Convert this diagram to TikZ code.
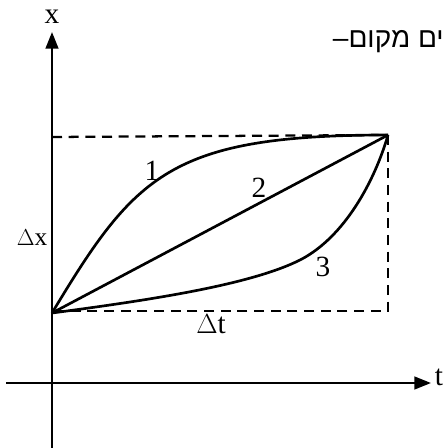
\documentclass[tikz,border=0pt]{standalone}
\usepackage{fontspec}
\setmainfont{Liberation Serif}
\newfontfamily\hebfont[Script=Hebrew]{Liberation Sans}
\TeXXeTstate=1
\usetikzlibrary{arrows.meta}
\begin{document}
\begin{tikzpicture}[x=0.75pt,y=-0.75pt,
  axis/.style={line width=1.8pt,-{Triangle[length=12.5pt,width=9.5pt]}},
  guide/.style={line width=1.7pt,dash pattern=on 7.5pt off 5pt},
  curve/.style={line width=2pt,line join=round},
  lbl/.style={inner sep=0pt,font=\fontsize{22}{24}\selectfont},
  dlbl/.style={inner sep=0pt,font=\fontsize{19}{21}\selectfont}]
\useasboundingbox (0,0) rectangle (447,448);
\coordinate (yb) at (52,448);
\coordinate (yt) at (52,32);
\coordinate (xl) at (6,383);
\coordinate (xr) at (431,383);
\coordinate (A) at (52,313);
\coordinate (B) at (388,135);
\coordinate (TL) at (52,137);
\coordinate (BR) at (388,311);
\coordinate (BL) at (52,311);
\coordinate (M3) at (300,260);
% axes
\draw[axis] (yb) -- (yt);
\draw[axis] (xl) -- (xr);
% dashed guides
\draw[guide] (TL) -- (B);
\draw[guide] (B) -- (BR) -- (BL);
% curves
\draw[curve] (A) .. controls (135,175) and (170,135) .. (B);
\draw[curve] (A) -- (B);
\draw[curve] (A) .. controls (150,300) and (250,285) .. (M3) .. controls (345,237) and (375,180) .. (B);
% labels
\node[lbl] (lx) at (52,17) {x};
\node[lbl] (lt) at (439,377) {t};
\node[dlbl] (ldx) at (32,238) {$\Delta$x};
\node[lbl] (ldt) at (211,324) {$\Delta$t};
\node[lbl] (l1) at (152,171) {1};
\node[lbl] (l2) at (259,188) {2};
\node[lbl] (l3) at (323,267) {3};
\node[inner sep=0pt,anchor=east,font=\hebfont\fontsize{21}{23}\selectfont] (heb) at (444,42) {\beginR ים מקום–\endR};
\end{tikzpicture}
\end{document}
